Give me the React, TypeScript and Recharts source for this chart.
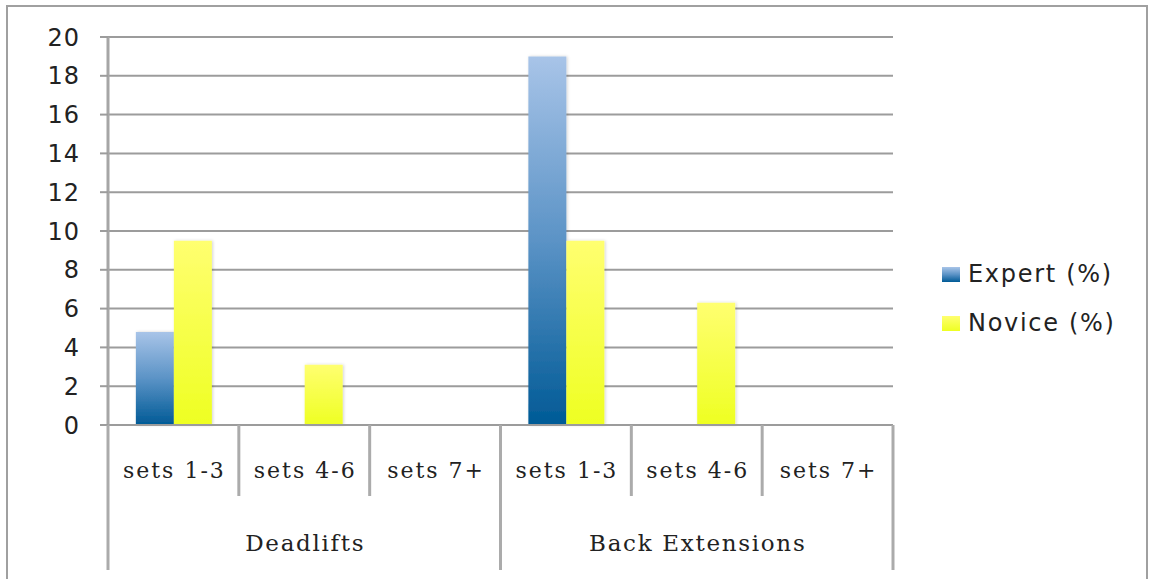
import React from "react";
import { BarChart, Bar, XAxis, YAxis, CartesianGrid } from "recharts";

// Categories: two exercise groups, each split by set range
const groups = ["Deadlifts", "Deadlifts", "Deadlifts", "Back Extensions", "Back Extensions", "Back Extensions"];
const setLabels = ["sets 1-3", "sets 4-6", "sets 7+", "sets 1-3", "sets 4-6", "sets 7+"];

// Series values (percent)
const expertValues = [4.8, 0, 0, 19.0, 0, 0];
const noviceValues = [9.5, 3.1, 0, 9.5, 6.3, 0];

const seriesNames = ["Expert (%)", "Novice (%)"];
const yTicks = [0, 2, 4, 6, 8, 10, 12, 14, 16, 18, 20];

const data = setLabels.map((label, i) => ({
  key: `${groups[i]}|${label}|${i}`,
  group: groups[i],
  label,
  expert: expertValues[i],
  novice: noviceValues[i],
}));

// Layout constants
const W = 1150;
const H = 579;
const MARGIN = { top: 37, right: 257, bottom: 0, left: 8 };
const Y_AXIS_W = 100;
const X_AXIS_H = 154;
const PLOT_LEFT = MARGIN.left + Y_AXIS_W;
const PLOT_RIGHT = W - MARGIN.right;
const PLOT_BOTTOM = H - MARGIN.bottom - X_AXIS_H;
const BAND = (PLOT_RIGHT - PLOT_LEFT) / data.length;

const SEP_COLOR = "#ababab";

const groupSpan = (i: number) => {
  let n = 0;
  for (let j = i; j < groups.length && groups[j] === groups[i]; j++) n++;
  return n;
};

const CategoryTick = (props: any) => {
  const { x, index } = props;
  const i = typeof index === "number" ? index : data.findIndex((d) => d.key === props.payload?.value);
  const row = data[i];
  if (!row) return null;
  const left = x - BAND / 2;
  const isGroupStart = i === 0 || groups[i] !== groups[i - 1];
  const isLast = i === data.length - 1;
  const span = isGroupStart ? groupSpan(i) : 0;
  return (
    <g>
      <line
        x1={left}
        x2={left}
        y1={PLOT_BOTTOM}
        y2={isGroupStart ? 570 : 496}
        stroke={SEP_COLOR}
        strokeWidth={3}
      />
      {isLast && (
        <line x1={left + BAND} x2={left + BAND} y1={PLOT_BOTTOM} y2={570} stroke={SEP_COLOR} strokeWidth={3} />
      )}
      <text
        x={x + 1}
        y={478}
        textAnchor="middle"
        fontFamily="'DejaVu Serif', serif"
        fontSize={22}
        letterSpacing={2}
        fill="#222"
      >
        {row.label}
      </text>
      {isGroupStart && (
        <text
          x={left + (span * BAND) / 2 + 1}
          y={551}
          textAnchor="middle"
          fontFamily="'DejaVu Serif', serif"
          fontSize={23}
          letterSpacing={1.7}
          fill="#222"
        >
          {row.group}
        </text>
      )}
    </g>
  );
};

const legendItems = [
  { name: seriesNames[0], fill: "linear-gradient(to bottom, #a8c4e8, #5b93c6 50%, #005a96)" },
  { name: seriesNames[1], fill: "linear-gradient(to bottom, #ffff70, #eeff22)" },
];

export default function App() {
  return (
    <div style={{ position: "absolute", left: 0, top: 0, width: W, height: H, overflow: "hidden", background: "#fff" }}>
      {/* outer frame */}
      <div
        style={{
          position: "absolute",
          left: 6,
          top: 5,
          width: 1142,
          height: H - 5,
          boxSizing: "border-box",
          borderLeft: "2px solid #a0a0a0",
          borderTop: "2px solid #a0a0a0",
          borderRight: "2px solid #a0a0a0",
        }}
      />
      <div style={{ position: "absolute", left: 0, top: 0 }}>
        <BarChart width={W} height={H} data={data} margin={MARGIN} barCategoryGap="21.3%" barGap={0}>
          <defs>
            <linearGradient id="expertFill" x1="0" y1="0" x2="0" y2="1">
              <stop offset="0%" stopColor="#a8c4e8" />
              <stop offset="50%" stopColor="#5b93c6" />
              <stop offset="100%" stopColor="#005a96" />
            </linearGradient>
            <linearGradient id="noviceFill" x1="0" y1="0" x2="0" y2="1">
              <stop offset="0%" stopColor="#ffff70" />
              <stop offset="100%" stopColor="#eeff22" />
            </linearGradient>
            <filter id="barShadow" x="-20%" y="-5%" width="140%" height="110%">
              <feDropShadow dx="1" dy="0" stdDeviation="1.5" floodColor="#000" floodOpacity="0.18" />
            </filter>
          </defs>
          <CartesianGrid vertical={false} stroke="#9c9c9c" strokeWidth={2} />
          <XAxis
            dataKey="key"
            height={X_AXIS_H}
            interval={0}
            tickLine={false}
            axisLine={{ stroke: "#9c9c9c", strokeWidth: 2 }}
            tick={<CategoryTick />}
          />
          <YAxis
            width={Y_AXIS_W}
            domain={[0, 20]}
            ticks={yTicks}
            interval={0}
            tickSize={8}
            tickMargin={20}
            tickLine={{ stroke: "#9c9c9c", strokeWidth: 2 }}
            axisLine={{ stroke: "#a6a6a6", strokeWidth: 3 }}
            tick={{ fontFamily: "'DejaVu Sans', sans-serif", fontSize: 24, fill: "#222", letterSpacing: 1 }}
          />
          <Bar dataKey="expert" name={seriesNames[0]} fill="url(#expertFill)" filter="url(#barShadow)" isAnimationActive={false} />
          <Bar dataKey="novice" name={seriesNames[1]} fill="url(#noviceFill)" filter="url(#barShadow)" isAnimationActive={false} />
        </BarChart>
      </div>
      {/* legend */}
      {legendItems.map((item, i) => (
        <div
          key={item.name}
          style={{
            position: "absolute",
            left: 942,
            top: 259 + i * 49,
            height: 30,
            display: "flex",
            alignItems: "center",
            fontFamily: "'DejaVu Sans', sans-serif",
            fontSize: 24,
            letterSpacing: 1.7,
            color: "#222",
            whiteSpace: "nowrap",
          }}
        >
          <span style={{ display: "inline-block", width: 18, height: 15, background: item.fill, marginRight: 8 }} />
          <span>{item.name}</span>
        </div>
      ))}
    </div>
  );
}
